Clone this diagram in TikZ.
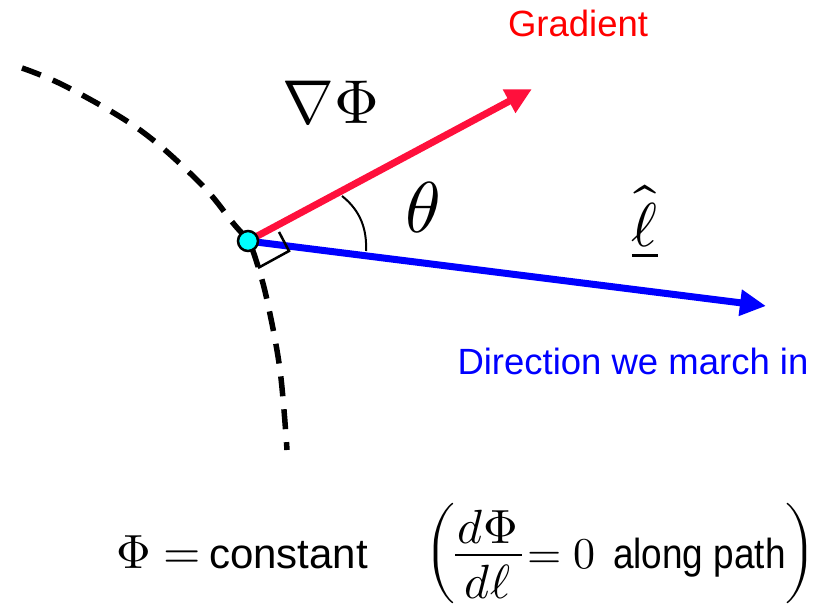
\documentclass[tikz,border=0pt]{standalone}
\usepackage{fontspec}
\usepackage{unicode-math}
\usepackage{graphicx}
\newfontfamily\arial{Liberation Sans}
\usetikzlibrary{arrows.meta}
\definecolor{gradred}{RGB}{255,16,60}
\definecolor{dirblue}{RGB}{0,0,255}
\definecolor{dotcyan}{RGB}{0,255,255}
\begin{document}
\begin{tikzpicture}[x=1pt,y=-1pt,
  vec/.style={line width=7pt,-{Triangle[length=26pt,width=25pt]}},
  isoline/.style={line width=5.5pt,dash pattern=on 20pt off 13pt},
  thin/.style={line width=2.5pt,black},
  lbl/.style={inner sep=0pt,outer sep=0pt,anchor=base},
  sans/.style={font=\arial\fontsize{36.5}{40}\selectfont},
  bigmath/.style={font=\fontsize{62}{66}\selectfont},
  eqmath/.style={font=\fontsize{48}{52}\selectfont},
  dot/.style={circle,draw=black,line width=2.5pt,fill=dotcyan,minimum size=20pt,inner sep=0pt}]
\useasboundingbox (0,0) rectangle (817,608);
% iso-potential path
\draw[isoline] plot[smooth,tension=0.6] coordinates
  {(22,68) (67,87) (140,130) (200,183) (233,223) (248,241) (256,260) (267,300) (280,370) (287,450)};
\coordinate (P) at (248,241);
\coordinate (gtip) at (532,89);
\coordinate (ltip) at (766,306);
% vectors
\draw[vec,gradred] (P) -- (gtip);
\draw[vec,dirblue] (P) -- (ltip);
% right-angle mark
\draw[thin] (279,232) -- (289,251) -- (258,268);
% angle arc
\draw[thin,line width=2pt] (342,196) .. controls (361,211) and (367,230) .. (366,251);
\node[dot] (pt) at (P) {};
% labels
\node[lbl,sans,text=red] (grad) at (578,36) {Gradient};
\node[lbl,sans,text=dirblue] (dir) at (633,374) {Direction we march in};
\node[lbl,bigmath] (nabla) at (331,123) {$\nabla\Phi$};
\node[lbl,font=\fontsize{72}{76}\selectfont] (theta) at (423,232) {$\theta$};
\node[lbl,bigmath] (ell) at (645,246) {$\underline{\hat{\ell}}$};
% bottom equation
\node[lbl,eqmath,anchor=base west] (phic) at (116,568) {$\Phi=$};
\node[lbl,font=\arial\fontsize{42}{46}\selectfont,anchor=base west] (const) at (209,568) {constant};
\node[inner sep=0pt,eqmath] (lp) at (441,553) {$\left(\vcenter{\hbox{\rule{0pt}{100pt}}}\right.$};
\node[lbl,eqmath] (num) at (488,543) {$d\Phi$};
\node[lbl,eqmath] (den) at (488,598) {$d\ell$};
\draw[line width=2pt] (455,555) -- (522,555);
\node[lbl,font=\fontsize{44}{48}\selectfont,anchor=base west] (eqz) at (527,568) {$=0$};
\node[lbl,font=\arial\fontsize{42}{46}\selectfont,anchor=base west] (along) at (613,568) {\scalebox{0.88}[1]{along path}};
\node[inner sep=0pt,eqmath] (rp) at (800,553) {$\left.\vcenter{\hbox{\rule{0pt}{100pt}}}\right)$};
\end{tikzpicture}
\end{document}
